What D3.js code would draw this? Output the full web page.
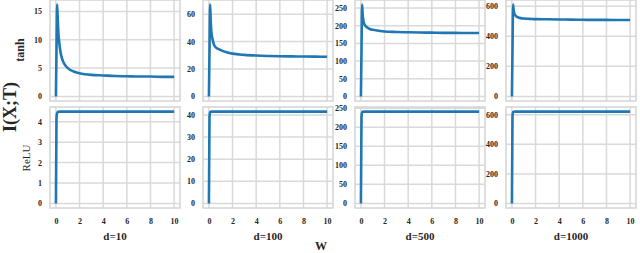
<!DOCTYPE html>
<html>
<head>
<meta charset="utf-8">
<script src="https://cdn.jsdelivr.net/npm/d3@7"></script>
<style>
  body { margin: 0; background: #fff; }
  text { font-family: "Liberation Serif", "Times New Roman", serif; fill: #262626; }
</style>
</head>
<body>
<div id="chart"></div>
<script>
// ============================
// Data
// ============================

const width = 640;
const height = 253;

// sample points on the W axis, shared by every panel
const wValues = [0, 0.05, 0.1, 0.15, 0.2, 0.3, 0.4, 0.5, 0.75, 1, 1.5, 2, 3, 4, 5, 6, 7, 8, 9, 10];

const dimLabels = ["d=10", "d=100", "d=500", "d=1000"];

// tanh row
const tanhD10   = [0, 8.1, 16.2, 14.0, 11.5, 9.2, 7.7, 6.8, 5.6, 5.0, 4.4, 4.1, 3.8, 3.7, 3.6, 3.55, 3.5, 3.5, 3.45, 3.45];
const tanhD100  = [0, 34, 67, 56, 48, 42, 38.5, 36.5, 34.8, 33.8, 32.2, 31.2, 30.3, 29.8, 29.5, 29.3, 29.2, 29.1, 29.0, 28.9];
const tanhD500  = [0, 130, 260, 232, 216, 204, 199, 196, 191, 188.5, 186, 184, 182.5, 181.5, 181, 180.5, 180, 180, 179.5, 179.5];
const tanhD1000 = [0, 305, 611, 572, 552, 538, 531, 527, 521, 518, 516, 514, 513, 512, 511, 510, 509, 509, 508, 508];

// ReLU row
const reluD10   = [0, 4.2, 4.42, 4.47, 4.49, 4.5, 4.5, 4.5, 4.5, 4.5, 4.5, 4.5, 4.5, 4.5, 4.5, 4.5, 4.5, 4.5, 4.5, 4.5];
const reluD100  = [0, 39, 41.2, 41.4, 41.5, 41.5, 41.5, 41.5, 41.5, 41.5, 41.5, 41.5, 41.5, 41.5, 41.5, 41.5, 41.5, 41.5, 41.5, 41.5];
const reluD500  = [0, 228, 239, 240.5, 241, 241, 241, 241, 241, 241, 241, 241, 241, 241, 241, 241, 241, 241, 241, 241];
const reluD1000 = [0, 590, 617, 620, 622, 622, 622, 622, 622, 622, 622, 622, 622, 622, 622, 622, 622, 622, 622, 622];

const xTicks = [0, 2, 4, 6, 8, 10];
const tanhTicks = [[0, 5, 10, 15], [0, 20, 40, 60], [0, 50, 100, 150, 200, 250], [0, 200, 400, 600]];
const reluTicks = [[0, 1, 2, 3, 4], [0, 10, 20, 30, 40], [0, 50, 100, 150, 200, 250], [0, 200, 400, 600]];

const rows = [
  { name: "tanh", series: [tanhD10, tanhD100, tanhD500, tanhD1000], ticks: tanhTicks },
  { name: "ReLU", series: [reluD10, reluD100, reluD500, reluD1000], ticks: reluTicks }
];

// ============================
// Layout
// ============================

const panelLeft = [50, 203, 355, 506];
const panelW = 130;
const rowTop = [0, 107];
const panelH = 101;

const lineColor = "#1f77b4";
const gridColor = "#d9d9d9";
const textColor = "#262626";

const svg = d3.select("#chart").append("svg")
  .attr("width", width)
  .attr("height", height)
  .attr("viewBox", [0, 0, width, height]);

// matplotlib-like 5% margins
function padded(lo, hi) {
  const m = (hi - lo) * 0.05;
  return [lo - m, hi + m];
}

function styleTicks(axisG) {
  axisG.select(".domain").remove();
  axisG.attr("font-family", null);
  axisG.selectAll("text")
    .style("font-family", '"Liberation Serif", serif')
    .style("font-weight", "bold")
    .style("font-size", "8px")
    .style("fill", textColor);
}

const xscale = d3.scaleLinear().domain(padded(0, 10)).range([0, panelW]);

rows.forEach((row, r) => {
  row.series.forEach((vals, c) => {
    const [lo, hi] = d3.extent(vals);
    const yscale = d3.scaleLinear().domain(padded(lo, hi)).range([panelH, 0]);

    const g = svg.append("g")
      .attr("transform", `translate(${panelLeft[c]},${rowTop[r]})`);

    // grid
    g.append("g")
      .selectAll("line")
      .data(xTicks)
      .join("line")
      .attr("x1", d => xscale(d)).attr("x2", d => xscale(d))
      .attr("y1", 0).attr("y2", panelH)
      .attr("stroke", gridColor).attr("stroke-width", 1.5);

    g.append("g")
      .selectAll("line")
      .data(row.ticks[c])
      .join("line")
      .attr("x1", 0).attr("x2", panelW)
      .attr("y1", d => yscale(d)).attr("y2", d => yscale(d))
      .attr("stroke", gridColor).attr("stroke-width", 1.5);

    // frame
    g.append("rect")
      .attr("x", 0).attr("y", 0)
      .attr("width", panelW).attr("height", panelH)
      .attr("fill", "none")
      .attr("stroke", "#d4d4d4")
      .attr("stroke-width", 1.5);

    // y axis labels
    g.append("g")
      .call(d3.axisLeft(yscale).tickValues(row.ticks[c]).tickFormat(d3.format("d"))
        .tickSize(0).tickPadding(8))
      .call(styleTicks);

    // x axis labels on the bottom row only
    if (r === rows.length - 1) {
      g.append("g")
        .attr("transform", `translate(0,${panelH})`)
        .call(d3.axisBottom(xscale).tickValues(xTicks).tickFormat(d3.format("d"))
          .tickSize(0).tickPadding(10))
        .call(styleTicks);

      g.append("text")
        .attr("x", panelW / 2)
        .attr("y", panelH + 32)
        .attr("text-anchor", "middle")
        .style("font-size", "11px")
        .style("font-weight", "bold")
        .text(dimLabels[c]);
    }

    // curve
    const line = d3.line()
      .curve(d3.curveMonotoneX)
      .x((d, i) => xscale(wValues[i]))
      .y(d => yscale(d));

    g.append("path")
      .datum(vals)
      .attr("d", line)
      .attr("fill", "none")
      .attr("stroke", lineColor)
      .attr("stroke-width", 2.6)
      .attr("stroke-linejoin", "round");
  });
});

// row labels
svg.append("text")
  .attr("transform", "translate(24,50) rotate(-90)")
  .attr("text-anchor", "middle")
  .style("font-size", "12px")
  .style("font-weight", "bold")
  .text("tanh");

svg.append("text")
  .attr("transform", "translate(30,158) rotate(-90)")
  .attr("text-anchor", "middle")
  .style("font-size", "11px")
  .text("ReLU");

svg.append("text")
  .attr("transform", "translate(16,107) rotate(-90)")
  .attr("text-anchor", "middle")
  .style("font-size", "18px")
  .style("font-weight", "bold")
  .text("I(X;T)");

svg.append("text")
  .attr("x", 321)
  .attr("y", 250)
  .attr("text-anchor", "middle")
  .style("font-size", "12px")
  .style("font-weight", "bold")
  .text("W");
</script>
</body>
</html>
